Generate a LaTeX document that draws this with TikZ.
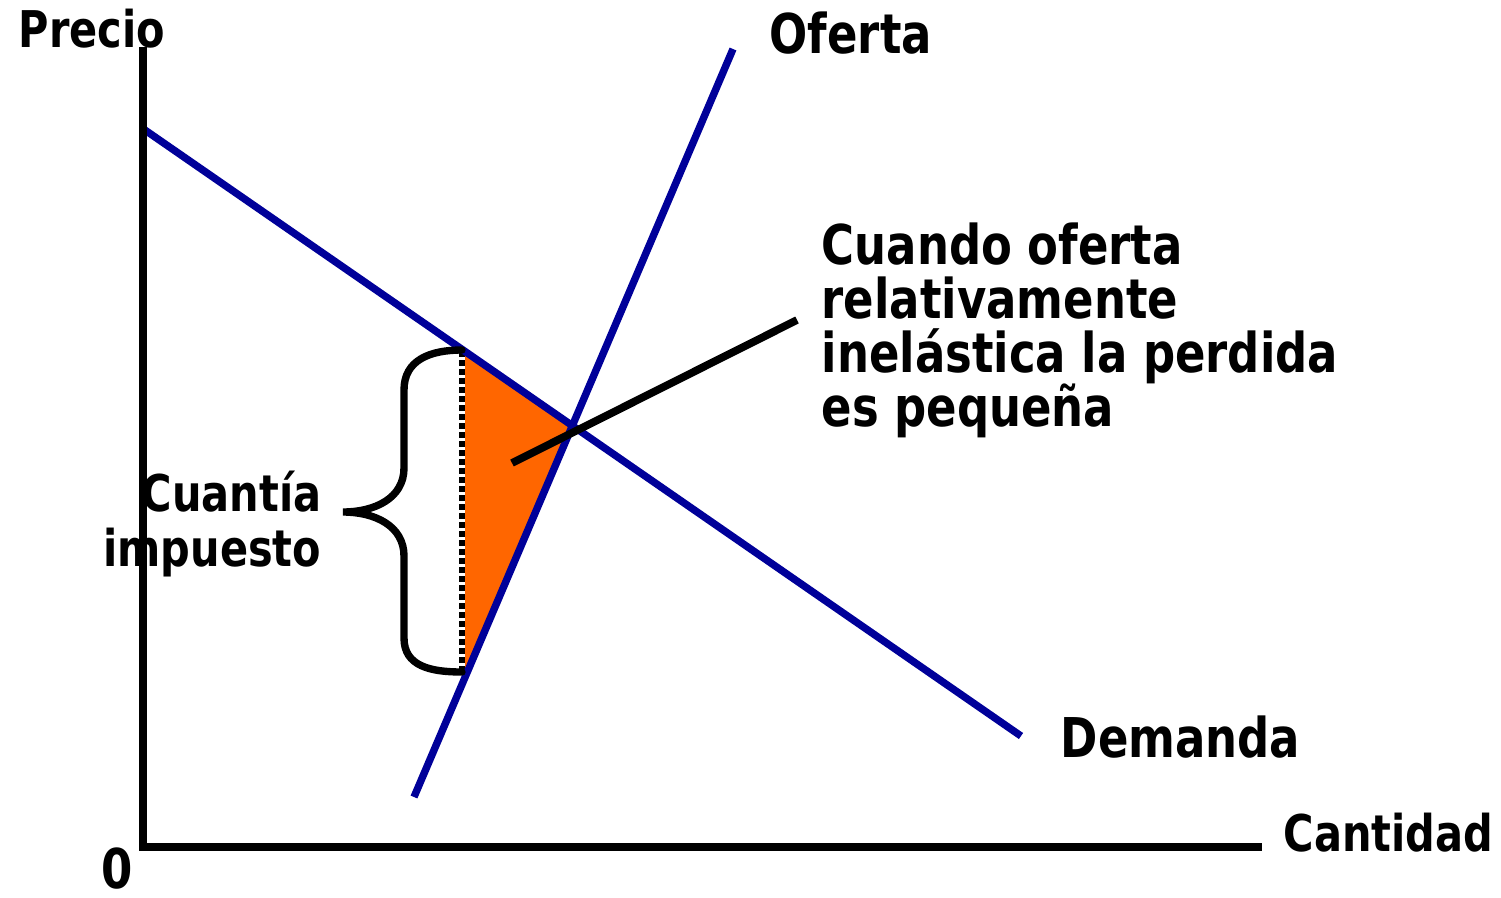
\documentclass[tikz,border=0pt]{standalone}
\usepackage{fontspec}
\setmainfont[FakeStretch=0.82]{DejaVu Sans}
\usepackage{tikz}
\usetikzlibrary{positioning}

\definecolor{curveblue}{RGB}{0,0,153}
\definecolor{lossorange}{RGB}{255,102,0}
\newcommand\bigfont{\fontsize{15.6}{15.4}\selectfont\bfseries}
\newcommand\smallfont{\fontsize{14.4}{15.6}\selectfont\bfseries}

\begin{document}
\begin{tikzpicture}[line width=2.1pt,
        curve/.style={curveblue},
        axisline/.style={black},
        lbl/.style={font=\bigfont,inner sep=0pt},
        axlbl/.style={font=\smallfont,inner sep=0pt}]
    \useasboundingbox (0,0) rectangle (15.01,-8.97);
    % points of the graph
    \coordinate (O) at (1.43,-8.47);
    \coordinate (ytop) at (1.43,-0.47);
    \coordinate (xend) at (12.62,-8.47);
    \coordinate (d_0) at (1.42,-1.28);
    \coordinate (d_1) at (10.21,-7.36);
    \coordinate (s_0) at (4.14,-7.97);
    \coordinate (s_1) at (7.33,-0.49);
    \coordinate (e) at (5.72,-4.28);
    \coordinate (t_top) at (4.62,-3.51);
    \coordinate (t_bot) at (4.62,-6.84);
    \coordinate (p_0) at (5.12,-4.63);
    \coordinate (p_1) at (7.97,-3.20);

    % deadweight loss
    \fill[lossorange] (t_top) -- (e) -- (t_bot) -- cycle;
    \draw[white,line width=1.6pt] (t_top) -- (4.62,-6.73);
    \draw[black,line width=1.6pt,dash pattern=on 0.06cm off 0.03cm] (t_top) -- (4.62,-6.73);

    % demand and supply
    \draw[curve] (d_0) -- (d_1);
    \draw[curve] (s_0) -- (s_1);

    % axes
    \draw[axisline] (ytop) -- (O) -- (xend);

    % brace
    \draw[line cap=round] (4.62,-3.50) .. controls (4.30,-3.50) and (4.04,-3.60) .. (4.04,-3.90)
        -- (4.04,-4.68) .. controls (4.04,-4.98) and (3.75,-5.12) .. (3.43,-5.12)
        .. controls (3.75,-5.12) and (4.04,-5.26) .. (4.04,-5.56)
        -- (4.04,-6.38) .. controls (4.04,-6.66) and (4.30,-6.72) .. (4.62,-6.72);

    % pointer
    \draw[black,line width=2.2pt] (p_0) -- (p_1);

    % labels
    \node[axlbl, anchor=base west] (precio) at (0.15,-0.47) {Precio};
    \node[lbl, anchor=base west] (oferta) at (7.66,-0.53) {Oferta};
    \node[lbl, anchor=base west] (demanda) at (10.57,-7.57) {Demanda};
    \node[axlbl, anchor=base west] (cantidad) at (12.80,-8.51) {Cantidad};
    \node[lbl, anchor=base west] (cero) at (0.98,-8.88) {0};
    \node[lbl, anchor=north west, align=left] (nota) at (8.18,-2.19)
        {Cuando oferta\\relativamente\\inelástica la perdida\\es pequeña};
    \node[axlbl, anchor=north east, align=right] (cuantia) at (3.25,-4.67)
        {Cuantía\\impuesto};
\end{tikzpicture}
\end{document}
